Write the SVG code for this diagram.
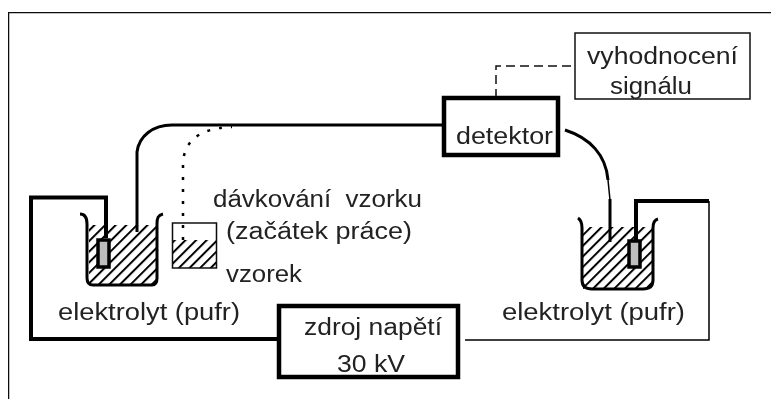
<svg xmlns="http://www.w3.org/2000/svg" width="771" height="399" viewBox="0 0 771 399">
<defs>
<pattern id="hatch" width="7.500" height="7.500" patternUnits="userSpaceOnUse" patternTransform="rotate(45)">
<rect x="0" y="0" width="2" height="7.500" fill="#000"/>
</pattern>
<filter id="soft" x="0" y="0" width="100%" height="100%"><feGaussianBlur stdDeviation="0.45"/></filter>
</defs>
<style>
text{font-family:"Liberation Sans",Arial,sans-serif;font-size:23px;fill:#222;stroke:none}
.thick{fill:none;stroke:#000;stroke-width:4}
.mid{fill:none;stroke:#000;stroke-width:3}
.thin{fill:none;stroke:#000;stroke-width:1.500}
.box{fill:#fff;stroke:#000;stroke-width:4.500}
.box2{fill:#fff;stroke:#111;stroke-width:1.500}
.gray{fill:#bdbdbd;stroke:#000;stroke-width:3.500}
</style>
<rect width="771" height="399" fill="#fff"/>
<g filter="url(#soft)">
<path id="frame" d="M8.500 399V12.500H771" fill="none" stroke="#111" stroke-width="1.500"/>
<g id="connectors">
<path class="thick" d="M106 238V197.500H31V339H280"/>
<path class="mid" d="M137 232V152C139 136 153 125 172 125H445"/>
<path d="M183 240V165C183 145 195 128 232 127" fill="none" stroke="#000" stroke-width="2.500" stroke-dasharray="3 9"/>
<path d="M496 98V66H575" fill="none" stroke="#111" stroke-width="1.500" stroke-dasharray="9 5"/>
<path class="mid" d="M565 130C590 138 606 155 608 180"/>
<path class="thin" d="M608 180L610 200"/>
<path class="mid" d="M610 199V242"/>
<path class="thick" d="M636 240V201H709"/>
<path class="thin" d="M709 201V340H465"/>
</g>
<g id="beaker-left">
<rect x="89" y="225" width="67" height="59" fill="url(#hatch)"/>
<path class="mid" d="M80 214C85 214 87 218 87 224V278Q87 285 93 285H152Q157 285 157 278V224C157 218 158 215 163 214"/>
<rect class="gray" x="98" y="240" width="11" height="27"/>
</g>
<g id="beaker-right">
<rect x="583" y="227" width="69" height="62" fill="url(#hatch)"/>
<path class="mid" d="M578 218C581 220 582 224 582 228V280Q582 289 592 289H643Q653 289 653 280V228C653 224 654 220 658 219"/>
<rect class="gray" x="629" y="241" width="11" height="26"/>
</g>
<g id="sample">
<rect x="173" y="240" width="43" height="28" fill="url(#hatch)"/>
<rect x="172.500" y="223" width="44" height="45" fill="none" stroke="#111" stroke-width="1.500"/>
<text x="226" y="282" textLength="76" lengthAdjust="spacingAndGlyphs">vzorek</text>
</g>
<g id="sample-label">
<text x="213" y="207" textLength="209" lengthAdjust="spacingAndGlyphs" xml:space="preserve">dávkování  vzorku</text>
<text x="226" y="239" textLength="186" lengthAdjust="spacingAndGlyphs">(začátek práce)</text>
</g>
<g id="detector">
<rect class="box" x="444" y="98" width="114" height="57"/>
<text x="456" y="144" textLength="97" lengthAdjust="spacingAndGlyphs">detektor</text>
</g>
<g id="evaluation">
<rect class="box2" x="575" y="33" width="175" height="66"/>
<text x="587" y="64" textLength="151" lengthAdjust="spacingAndGlyphs">vyhodnocení</text>
<text x="610" y="94" textLength="82" lengthAdjust="spacingAndGlyphs">signálu</text>
</g>
<g id="source">
<rect class="box" x="279" y="306" width="179" height="71"/>
<text x="304" y="335" textLength="138" lengthAdjust="spacingAndGlyphs">zdroj napětí</text>
<text x="337" y="372" textLength="68" lengthAdjust="spacingAndGlyphs">30 kV</text>
</g>
<g id="electrolyte-left"><text x="58" y="320" textLength="182" lengthAdjust="spacingAndGlyphs">elektrolyt (pufr)</text></g>
<g id="electrolyte-right"><text x="502" y="320" textLength="183" lengthAdjust="spacingAndGlyphs">elektrolyt (pufr)</text></g>
</g>
</svg>
